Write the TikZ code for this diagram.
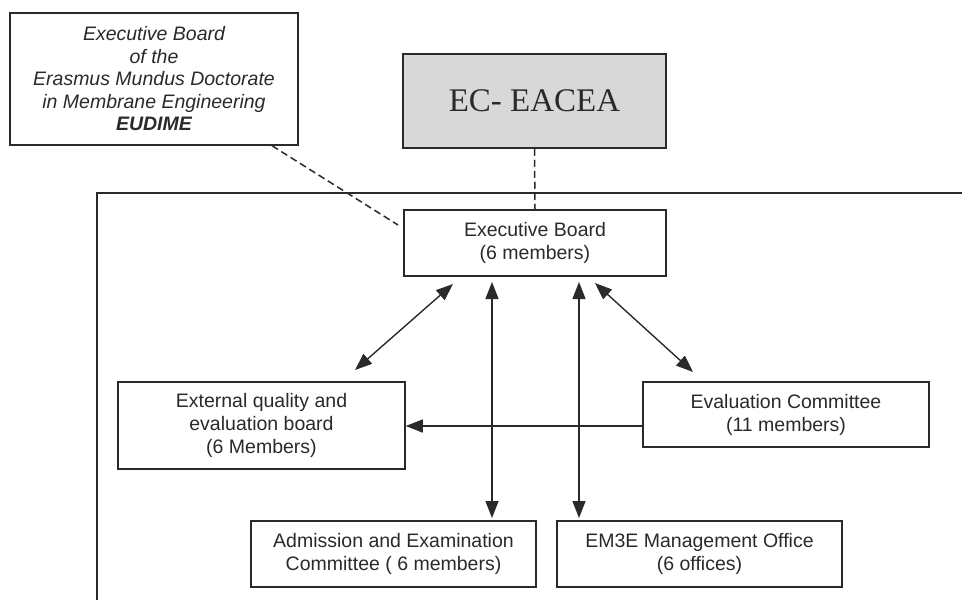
\documentclass[tikz,border=0pt]{standalone}
\usepackage{fontspec}
\setmainfont{Liberation Sans}
\newfontfamily\serifec{Liberation Serif}
\usetikzlibrary{arrows.meta}
\definecolor{ink}{HTML}{2A2A2A}
\definecolor{ecgray}{HTML}{D8D8D8}
\begin{document}
\begin{tikzpicture}[x=1pt,y=-1pt,
  box/.style={draw=ink,line width=1.5pt,inner sep=0pt,align=center,text=ink,
    font=\fontsize{19.5}{23}\selectfont},
  link/.style={draw=ink,line width=1.4pt},
  dlink/.style={draw=ink,line width=1.5pt,dash pattern=on 7pt off 4pt},
  tip/.style={-{Triangle[length=17pt,width=13pt]}},
  tips/.style={{Triangle[length=17pt,width=13pt]}-{Triangle[length=17pt,width=13pt]}}]
\useasboundingbox (0,0) rectangle (962,600);
\fill[white] (0,0) rectangle (962,600);
% container
\draw[ink,line width=1.5pt] (962,193) -- (97,193) -- (97,600);
% boxes
\node[box,minimum width=288pt,minimum height=132pt,font=\itshape\fontsize{19.5}{22.5}\selectfont] (tl) at (154,79)
  {Executive Board\\of the\\Erasmus Mundus Doctorate\\in Membrane Engineering\\\textbf{EUDIME}};
\node[box,fill=ecgray,minimum width=263pt,minimum height=94pt,font=\serifec\fontsize{33}{36}\selectfont] (ec) at (534.5,101) {EC- EACEA};
\node[box,minimum width=262pt,minimum height=66pt] (exec) at (535,243) {Executive Board\\(6 members)};
\node[box,minimum width=286pt,minimum height=65pt] (eval) at (786,414.5) {Evaluation Committee\\(11 members)};
\node[box,minimum width=287pt,minimum height=87pt] (ext) at (261.5,425.5) {External quality and\\evaluation board\\(6 Members)};
\node[box,minimum width=285pt,minimum height=66pt] (adm) at (393.5,554) {Admission and Examination\\Committee ( 6 members)};
\node[box,minimum width=285pt,minimum height=66pt] (em) at (699.5,554) {EM3E Management Office\\(6 offices)};
% dashed links
\coordinate (d1) at (272,145.7);
\coordinate (d2) at (398,225);
\draw[dlink] (d1) -- (d2);
\draw[dlink] (ec.south) -- (exec.north);
% vertical double arrows
\coordinate (a1t) at (492,282); \coordinate (a1b) at (492,518);
\coordinate (a2t) at (579,282); \coordinate (a2b) at (579,518);
\draw[link,tips] (a1t) -- (a1b);
\draw[link,tips] (a2t) -- (a2b);
% diagonal double arrows
\coordinate (l1) at (453,284); \coordinate (l2) at (355,370);
\coordinate (r1) at (595,283); \coordinate (r2) at (693,372);
\draw[link,tips] (l1) -- (l2);
\draw[link,tips] (r1) -- (r2);
% horizontal arrow
\draw[link,tip] (eval.west |- 0,426) -- (ext.east |- 0,426);
\end{tikzpicture}
\end{document}
